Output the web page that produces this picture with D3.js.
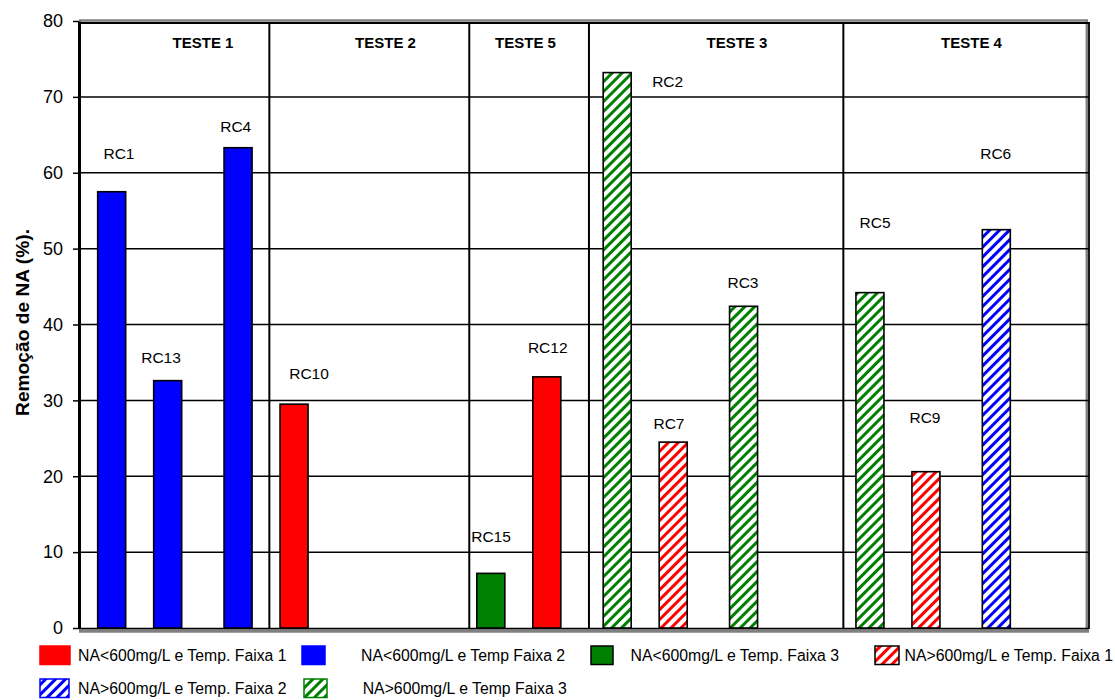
<!DOCTYPE html>
<html>
<head>
<meta charset="utf-8">
<script src="https://cdn.jsdelivr.net/npm/d3@7"></script>
<style>
  body { margin: 0; background: #fff; }
  svg { display: block; }
  text { font-family: "Liberation Sans", Arial, sans-serif; fill: #000; }
</style>
</head>
<body>
<svg id="chart" width="1115" height="700"></svg>
<script>
// ---- data ----------------------------------------------------------------
// Eight unlabelled category slots, each holding up to two columns (A, B).
const categories = [0, 1, 2, 3, 4, 5, 6, 7];
const slots = ["A", "B"];

const names    = ["RC1", "RC13", "RC4", "RC10", "RC15", "RC12", "RC2", "RC7", "RC3", "RC5", "RC9", "RC6"];
const values   = [57.5, 32.6, 63.3, 29.5, 7.2, 33.1, 73.2, 24.5, 42.4, 44.2, 20.6, 52.5];
const groupOf  = [0, 0, 1, 1, 3, 3, 4, 4, 5, 6, 6, 7];
const slotOf   = ["A", "B", "A", "B", "A", "B", "A", "B", "A", "A", "B", "A"];
const seriesOf = [1, 1, 1, 0, 2, 0, 5, 3, 5, 5, 3, 4];

const seriesLabels = [
  "NA<600mg/L e Temp. Faixa 1",
  "NA<600mg/L e Temp Faixa 2",
  "NA<600mg/L e Temp. Faixa 3",
  "NA>600mg/L e Temp. Faixa 1",
  "NA>600mg/L e Temp. Faixa 2",
  "NA>600mg/L e Temp Faixa 3"
];

const yTicks = [0, 10, 20, 30, 40, 50, 60, 70, 80];
const testNames = ["TESTE 1", "TESTE 2", "TESTE 5", "TESTE 3", "TESTE 4"];

// ---- layout (category units on x, percent on y) --------------------------
const testAt    = [1.001, 2.445, 3.553, 5.226, 7.082];
const dividerAt = [1.526, 3.108, 4.055, 6.068];
const labelAtX  = [0.336, 0.669, 1.260, 1.840, 3.280, 3.729, 4.678, 4.688, 5.274, 6.319, 6.714, 7.274];
const labelAtY  = [62.6, 35.7, 66.1, 33.5, 12.1, 37.0, 72.1, 27.0, 45.6, 53.4, 27.7, 62.6];

// ---- styles --------------------------------------------------------------
const seriesColor = ["#ff0000", "#0000ff", "#008000", "#ff0000", "#0000ff", "#008000"];
const seriesHatched = [false, false, false, true, true, true];
const swatchStroke = ["#ff0000", "#0000ff", "#000000", "#000000", "#0000ff", "#008000"];

const plot = { left: 76.5, right: 1087.5, top: 21, bottom: 628 };

const svg = d3.select("#chart");

// hatch patterns: diagonal "/" stripes on white
const defs = svg.append("defs");
seriesColor.forEach((c, i) => {
  const p = defs.append("pattern")
    .attr("id", "hatch" + i)
    .attr("patternUnits", "userSpaceOnUse")
    .attr("width", 7).attr("height", 7)
    .attr("patternTransform", "rotate(45)");
  p.append("rect").attr("width", 7).attr("height", 7).attr("fill", "#fff");
  p.append("rect").attr("width", 3).attr("height", 7).attr("fill", c);
});
const fillFor = s => seriesHatched[s] ? `url(#hatch${s})` : seriesColor[s];

// ---- scales ----------------------------------------------------------------
const x0 = d3.scaleBand().domain(categories).range([plot.left, plot.right]).padding(0);
const xu = d3.scaleLinear().domain([0, categories.length]).range([plot.left, plot.right]);
const y  = d3.scaleLinear().domain([0, 80]).range([plot.bottom, plot.top]);
const half = 42;
const x1 = d3.scaleBand().domain(slots).range([-half, half]).paddingInner(0.5).paddingOuter(0);

const frameL = 79, frameR = 1089;

// ---- plot frame shadow -----------------------------------------------------
const g = svg.append("g");
g.append("line").attr("x1", frameL).attr("x2", frameR - 1.5)
  .attr("y1", y(80) - 0.5).attr("y2", y(80) - 0.5)
  .attr("stroke", "#808080").attr("stroke-width", 2.5);
g.append("line").attr("x1", frameR - 2.2).attr("x2", frameR - 2.2)
  .attr("y1", y(80) - 1.5).attr("y2", y(0) + 4)
  .attr("stroke", "#808080").attr("stroke-width", 2.5);
g.append("line").attr("x1", frameL).attr("x2", frameR)
  .attr("y1", y(0) + 3).attr("y2", y(0) + 3)
  .attr("stroke", "#808080").attr("stroke-width", 3.5);

// horizontal gridlines
g.selectAll("line.grid").data(yTicks.filter(v => v > 0 && v < 80)).join("line")
  .attr("class", "grid")
  .attr("x1", frameL).attr("x2", frameR)
  .attr("y1", d => y(d)).attr("y2", d => y(d))
  .attr("stroke", "#000").attr("stroke-width", 1.5);

// frame top / right / bottom
g.append("line").attr("x1", frameL).attr("x2", frameR + 0.5)
  .attr("y1", y(80) + 2).attr("y2", y(80) + 2)
  .attr("stroke", "#000").attr("stroke-width", 1.8);
g.append("line").attr("x1", frameR).attr("x2", frameR)
  .attr("y1", y(80) + 1).attr("y2", y(0) + 1)
  .attr("stroke", "#000").attr("stroke-width", 1.8);
g.append("line").attr("x1", frameL).attr("x2", frameR)
  .attr("y1", y(0) + 0.5).attr("y2", y(0) + 0.5)
  .attr("stroke", "#000").attr("stroke-width", 1.5);

// test section dividers
g.selectAll("line.div").data(dividerAt).join("line")
  .attr("class", "div")
  .attr("x1", d => xu(d)).attr("x2", d => xu(d))
  .attr("y1", y(80) + 1).attr("y2", y(0) + 1)
  .attr("stroke", "#000").attr("stroke-width", 2);

// test headings
g.selectAll("text.test").data(testNames).join("text")
  .attr("class", "test")
  .attr("x", (d, i) => xu(testAt[i]))
  .attr("y", y(80) + 27)
  .attr("text-anchor", "middle")
  .style("font-size", "15px").style("font-weight", "bold")
  .text(d => d);

// ---- bars ------------------------------------------------------------------
const bars = names.map((n, i) => ({ name: n, value: values[i], group: groupOf[i], slot: slotOf[i], series: seriesOf[i] }));

g.selectAll("rect.bar").data(bars).join("rect")
  .attr("class", "bar")
  .attr("x", d => x0(d.group) + x0.bandwidth() / 2 + x1(d.slot))
  .attr("width", x1.bandwidth())
  .attr("y", d => y(d.value))
  .attr("height", d => y(0) - y(d.value))
  .attr("fill", d => fillFor(d.series))
  .attr("stroke", "#000").attr("stroke-width", 1.6);

// bar name labels
g.selectAll("text.lbl").data(bars).join("text")
  .attr("class", "lbl")
  .attr("x", (d, i) => xu(labelAtX[i]))
  .attr("y", (d, i) => y(labelAtY[i]))
  .attr("dy", "0.36em")
  .attr("text-anchor", "middle")
  .style("font-size", "15.5px")
  .text(d => d.name);

// ---- y axis ------------------------------------------------------------------
const yAxis = svg.append("g")
  .attr("transform", `translate(${frameL},0)`)
  .call(d3.axisLeft(y).tickValues(yTicks).tickSize(6).tickPadding(10).tickSizeOuter(0));
yAxis.select(".domain").attr("stroke", "#000").attr("stroke-width", 3);
yAxis.selectAll(".tick line").attr("stroke", "#000").attr("stroke-width", 1.5);
yAxis.selectAll(".tick text")
  .style("font-size", "18px")
  .style("font-family", "'Liberation Sans', Arial, sans-serif")
  .attr("fill", "#000");

svg.append("text")
  .attr("transform", `translate(22,${(y(0) + y(80)) / 2 - 2}) rotate(-90)`)
  .attr("text-anchor", "middle")
  .attr("dy", "0.36em")
  .style("font-size", "19.2px").style("font-weight", "bold")
  .text("Remoção de NA (%).");

// ---- legend ------------------------------------------------------------------
const legendPlace = [
  { sx: 40,  sw: 30, tx: 78,    row: 0 },
  { sx: 302, sw: 23, tx: 361,   row: 0 },
  { sx: 591, sw: 22, tx: 630.5, row: 0 },
  { sx: 875, sw: 24, tx: 904.5, row: 0 },
  { sx: 40,  sw: 29, tx: 78,    row: 1 },
  { sx: 304, sw: 23, tx: 362.7, row: 1 }
];
const rowTop = [646, 679];
const leg = svg.append("g");
seriesLabels.forEach((label, i) => {
  const p = legendPlace[i];
  leg.append("rect")
    .attr("x", p.sx).attr("y", rowTop[p.row])
    .attr("width", p.sw).attr("height", 18.5)
    .attr("fill", fillFor(i))
    .attr("stroke", swatchStroke[i]).attr("stroke-width", 1.5);
  leg.append("text")
    .attr("x", p.tx).attr("y", rowTop[p.row] + 9.5)
    .attr("dy", "0.36em")
    .style("font-size", "15.8px")
    .text(label);
});
</script>
</body>
</html>
